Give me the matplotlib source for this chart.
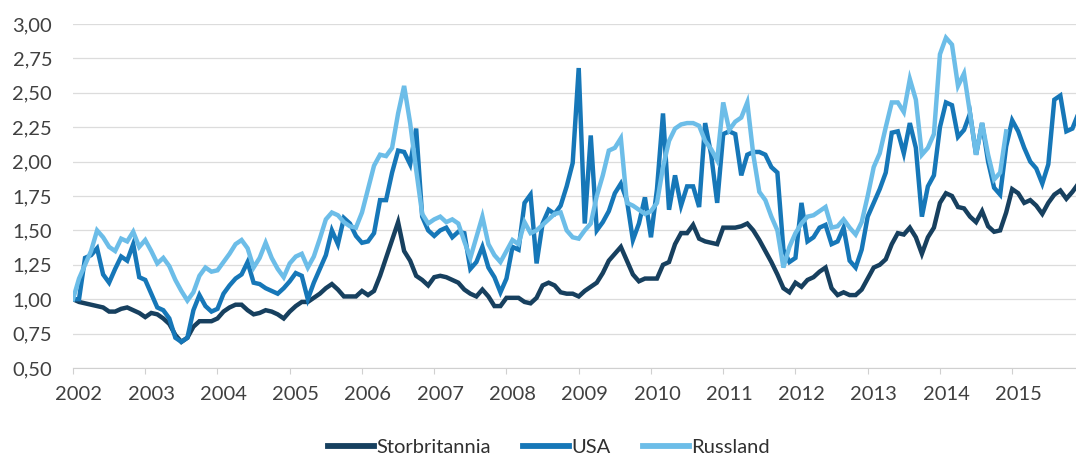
import numpy as np
import matplotlib
matplotlib.use("Agg")
import matplotlib.pyplot as plt
import matplotlib.transforms as mtransforms
from matplotlib.ticker import FuncFormatter

plt.rcParams['font.family'] = ['Lato', 'DejaVu Sans']

# Monthly index values, Jan 2002 = 1,00
storbritannia = [
    1.00, 0.98, 0.97, 0.96, 0.95, 0.94, 0.91, 0.91, 0.93, 0.94,
    0.92, 0.90, 0.87, 0.90, 0.89, 0.86, 0.82, 0.74, 0.69, 0.72,
    0.80, 0.84, 0.84, 0.84, 0.86, 0.91, 0.94, 0.96, 0.96, 0.92,
    0.89, 0.90, 0.92, 0.91, 0.89, 0.86, 0.91, 0.95, 0.98, 0.98,
    1.01, 1.04, 1.08, 1.11, 1.07, 1.02, 1.02, 1.02, 1.06, 1.03,
    1.06, 1.17, 1.30, 1.43, 1.56, 1.35, 1.28, 1.17, 1.14, 1.10,
    1.16, 1.17, 1.16, 1.14, 1.12, 1.07, 1.04, 1.02, 1.07, 1.02,
    0.95, 0.95, 1.01, 1.01, 1.01, 0.98, 0.97, 1.01, 1.10, 1.12,
    1.10, 1.05, 1.04, 1.04, 1.02, 1.06, 1.09, 1.12, 1.19, 1.28,
    1.33, 1.38, 1.28, 1.18, 1.13, 1.15, 1.15, 1.15, 1.25, 1.27,
    1.40, 1.48, 1.48, 1.54, 1.44, 1.42, 1.41, 1.40, 1.52, 1.52,
    1.52, 1.53, 1.55, 1.50, 1.43, 1.35, 1.27, 1.18, 1.08, 1.05,
    1.12, 1.09, 1.14, 1.16, 1.20, 1.23, 1.08, 1.03, 1.05, 1.03,
    1.03, 1.07, 1.15, 1.23, 1.25, 1.29, 1.40, 1.48, 1.47, 1.52,
    1.45, 1.33, 1.45, 1.52, 1.70, 1.77, 1.75, 1.67, 1.66, 1.60,
    1.56, 1.64, 1.53, 1.49, 1.50, 1.63, 1.80, 1.77, 1.70, 1.72,
    1.68, 1.62, 1.70, 1.76, 1.79, 1.73, 1.78, 1.84,
]

usa = [
    1.00, 1.00, 1.30, 1.32, 1.37, 1.18, 1.12, 1.22, 1.31, 1.28,
    1.40, 1.16, 1.14, 1.04, 0.94, 0.92, 0.86, 0.72, 0.69, 0.72,
    0.92, 1.03, 0.95, 0.91, 0.93, 1.04, 1.10, 1.15, 1.18, 1.27,
    1.12, 1.11, 1.08, 1.06, 1.04, 1.08, 1.13, 1.19, 1.17, 1.00,
    1.12, 1.22, 1.32, 1.50, 1.40, 1.59, 1.55, 1.46, 1.41, 1.42,
    1.48, 1.72, 1.72, 1.92, 2.08, 2.07, 1.98, 2.24, 1.60, 1.50,
    1.46, 1.50, 1.52, 1.45, 1.49, 1.48, 1.22, 1.27, 1.38, 1.23,
    1.16, 1.05, 1.15, 1.38, 1.36, 1.70, 1.76, 1.26, 1.55, 1.65,
    1.62, 1.68, 1.82, 1.99, 2.68, 1.55, 2.19, 1.50, 1.56, 1.64,
    1.77, 1.84, 1.72, 1.43, 1.55, 1.74, 1.45, 1.80, 2.35, 1.65,
    1.90, 1.68, 1.82, 1.82, 1.67, 2.28, 2.05, 1.70, 2.20, 2.22,
    2.20, 1.90, 2.05, 2.07, 2.07, 2.05, 1.96, 1.92, 1.36, 1.27,
    1.30, 1.70, 1.42, 1.45, 1.52, 1.54, 1.40, 1.42, 1.52, 1.28,
    1.23, 1.36, 1.60, 1.70, 1.80, 1.92, 2.21, 2.22, 2.06, 2.28,
    2.10, 1.60, 1.82, 1.90, 2.25, 2.43, 2.41, 2.18, 2.23, 2.35,
    2.05, 2.28, 2.00, 1.81, 1.76, 2.11, 2.30, 2.22, 2.10, 2.00,
    1.95, 1.84, 1.98, 2.45, 2.48, 2.22, 2.24, 2.35,
]

russland = [
    1.00, 1.15, 1.25, 1.35, 1.50, 1.45, 1.38, 1.35, 1.44, 1.42,
    1.49, 1.38, 1.43, 1.35, 1.26, 1.30, 1.24, 1.14, 1.06, 0.99,
    1.05, 1.17, 1.23, 1.20, 1.21, 1.27, 1.33, 1.40, 1.43, 1.37,
    1.23, 1.30, 1.41, 1.30, 1.22, 1.16, 1.26, 1.31, 1.33, 1.23,
    1.31, 1.44, 1.58, 1.63, 1.61, 1.56, 1.53, 1.52, 1.63, 1.80,
    1.97, 2.05, 2.04, 2.10, 2.35, 2.55, 2.28, 1.94, 1.62, 1.55,
    1.58, 1.60, 1.56, 1.58, 1.55, 1.42, 1.30, 1.45, 1.60, 1.40,
    1.32, 1.27, 1.35, 1.43, 1.40, 1.56, 1.48, 1.50, 1.54, 1.58,
    1.62, 1.63, 1.50, 1.45, 1.44, 1.50, 1.55, 1.75, 1.90, 2.08,
    2.10, 2.17, 1.70, 1.68, 1.65, 1.62, 1.64, 1.70, 1.96, 2.15,
    2.24, 2.27, 2.28, 2.28, 2.26, 2.15, 2.09, 2.01, 2.43, 2.23,
    2.29, 2.32, 2.43, 2.05, 1.78, 1.72, 1.60, 1.50, 1.23, 1.38,
    1.48, 1.55, 1.60, 1.61, 1.64, 1.67, 1.52, 1.53, 1.58, 1.52,
    1.47, 1.56, 1.75, 1.96, 2.06, 2.25, 2.43, 2.43, 2.36, 2.60,
    2.45, 2.05, 2.10, 2.20, 2.78, 2.90, 2.85, 2.55, 2.64, 2.35,
    2.05, 2.28, 2.05, 1.87, 1.92, 2.22,
]

series = [("Storbritannia", storbritannia, "#17405f"),
          ("USA", usa, "#1677b8"),
          ("Russland", russland, "#6cbde8")]

years = list(range(2002, 2016))

fig = plt.figure(figsize=(10.76, 4.59), dpi=100)
ax = fig.add_axes([73 / 1076, 1 - 368 / 459, 1 - 73 / 1076, (368 - 24) / 459])

for name, vals, col in series:
    x = 2002 + np.arange(len(vals)) / 12
    ax.plot(x, vals, color=col, lw=3.2, label=name, solid_joinstyle="miter")

ax.set_xlim(2002, 2002 + 166.6 / 12)
ax.set_ylim(0.5, 3.0)
ax.set_yticks(np.arange(0.5, 3.01, 0.25))
ax.yaxis.set_major_formatter(FuncFormatter(lambda v, p: f"{v:.2f}".replace(".", ",")))
ax.set_xticks(years)
ax.set_xticklabels([str(y) for y in years])

ax.grid(axis="y", color="#dcdcdc", lw=0.9)
ax.set_axisbelow(True)
for s in ["top", "right", "left"]:
    ax.spines[s].set_visible(False)
ax.spines["bottom"].set_color("#d0d0d0")
ax.tick_params(axis="y", length=0, pad=15, labelsize=14.5, labelcolor="#404040")
ax.tick_params(axis="x", length=4, color="#d0d0d0", pad=9, labelsize=14.5, labelcolor="#404040")

# shift year labels slightly right, as in the original
shift = mtransforms.ScaledTranslation(6 / 100, 0, fig.dpi_scale_trans)
for lab in ax.get_xticklabels():
    lab.set_transform(lab.get_transform() + shift)

leg = fig.legend(loc="center", bbox_to_anchor=(549 / 1076, 1 - 447 / 459), ncol=3,
                 frameon=False, fontsize=14.5, handlelength=2.3, handletextpad=0.1,
                 columnspacing=1.6, labelcolor="#303030")
for h in leg.get_lines():
    h.set_linewidth(4.2)

fig.savefig("out.png", dpi=100)
